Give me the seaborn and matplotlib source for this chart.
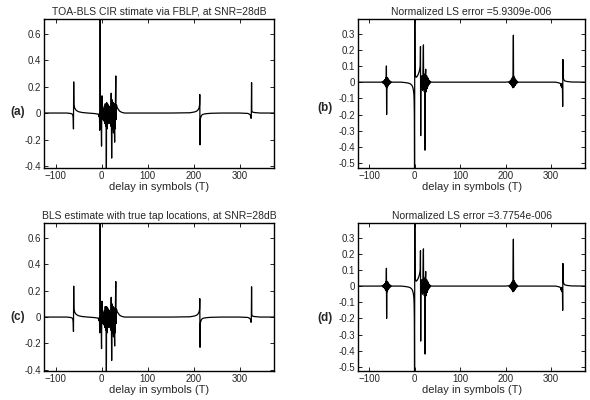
import seaborn as sns
import matplotlib.pyplot as plt
from matplotlib.ticker import FormatStrFormatter

# (a) TOA-BLS estimate via FBLP
delay_a = [-125, -75, -66, -63, -62, -61.5, -61, -60.5, -60, -58, -55, -50, -42, -30,
           -15, -8, -6, -5, -4.5, -4, -3.5, -3, -2.5, -2, -1.5, -1, 0, 0.5, 1, 1.5,
           2, 3, 4, 5, 6, 7, 8, 9, 10, 10.5, 11, 12, 13, 14, 15, 16, 17, 20, 21,
           22, 23, 24, 25, 26, 27, 28.5, 29, 29.5, 30, 31, 31.5, 32.5, 34, 36, 39, 44,
           50, 80, 150, 192, 202, 207, 210, 212, 213, 213.5, 214, 214.5, 215, 216,
           217, 219, 222, 227, 237, 260, 300, 318, 322, 324, 325, 325.5, 326, 326.5,
           327, 328, 330, 335, 345, 375]
cir_a = [0, 0, -0.004, -0.01, -0.02, -0.04, -0.12, 0.235, 0.06, 0.035, 0.02, 0.01, 0.004, 0,
         -0.004, -0.008, -0.015, -0.03, 0.0, -0.13, 0.0, 0.75, 0.0, -0.04, 0.02, -0.03, -0.25, 0.0, 0.13, -0.02,
         0.04, -0.05, 0.03, -0.06, 0.05, -0.08, 0.07, -0.1, 0.06, -0.45, 0.08, -0.12, 0.07, -0.05, 0.06, -0.08, 0.05, -0.1, 0.15,
         -0.34, 0.1, -0.12, 0.08, -0.15, 0.05, -0.22, 0.07, -0.12, 0.05, 0.28, -0.05, 0.06, 0.04, 0.03, 0.015, 0.005,
         0, 0, 0, 0.002, 0.008, 0.015, 0.025, 0.04, 0.06, 0.14, -0.24, -0.06, -0.04, -0.03,
         -0.02, -0.012, -0.008, -0.005, -0.002, 0, 0, -0.003, -0.01, -0.02, -0.04, 0.0, 0.23, 0.02,
         0.01, 0.008, 0.005, 0.003, 0.0, 0]

# (c) BLS estimate with true tap locations
delay_c = delay_a
cir_c = [0, 0, -0.004, -0.01, -0.02, -0.04, -0.11, 0.235, 0.06, 0.035, 0.02, 0.01, 0.004, 0,
         -0.004, -0.008, -0.015, -0.03, 0.0, -0.12, 0.0, 0.75, 0.0, -0.04, 0.02, -0.03, -0.24, 0.0, 0.12, -0.02,
         0.04, -0.05, 0.03, -0.06, 0.05, -0.08, 0.08, -0.1, 0.06, -0.45, 0.08, -0.12, 0.07, -0.05, 0.06, -0.08, 0.05, -0.1, 0.15,
         -0.33, 0.1, -0.12, 0.08, -0.15, 0.05, -0.22, 0.07, -0.12, 0.05, 0.27, -0.05, 0.06, 0.04, 0.03, 0.015, 0.005,
         0, 0, 0, 0.002, 0.008, 0.015, 0.025, 0.04, 0.06, 0.14, -0.23, -0.06, -0.04, -0.03,
         -0.02, -0.012, -0.008, -0.005, -0.002, 0, 0, -0.003, -0.01, -0.02, -0.04, 0.0, 0.23, 0.02,
         0.01, 0.008, 0.005, 0.003, 0.0, 0]

# (b) / (d) channel responses behind the normalized LS error
delay_b = [-125, -74, -72, -71, -70, -69, -68, -67, -66, -65, -64, -63, -62.5, -62, -61.5,
           -61, -60, -59, -58, -57, -56, -55, -54, -53, -52, -50,
           -30, -20, -14, -10, -7, -5, -4, -3, -2, -1.5, -1, -0.5, 0, 0.5, 1, 2, 3, 5, 7,
           9, 11, 12, 12.5, 13, 13.5, 14, 15, 16, 17, 18, 19, 19.5, 20, 21, 22, 22.5, 23,
           24, 25, 26, 27, 28, 29, 30, 31, 32, 33, 34, 36,
           200, 207, 208, 209, 210, 211, 212, 213, 214, 215, 216, 217, 217.5, 218, 219,
           220, 221, 222, 223, 224, 225, 226, 227, 229,
           310, 318, 321, 322, 323, 324, 325, 325.5, 326, 326.5, 327, 328, 330, 335, 345, 375]
err_b = [0, 0, 0.003, -0.004, 0.005, -0.007, 0.009, -0.012, 0.016, -0.02, 0.026, -0.03, 0.1, -0.2, 0.03,
         -0.035, 0.028, -0.024, 0.019, -0.015, 0.011, -0.008, 0.006, -0.004, 0.002, 0,
         0, -0.003, -0.006, -0.01, -0.017, -0.027, -0.037, -0.05, -0.075, -0.11, -0.2, -0.6, 0.45, 0.08, 0.05, 0.035, 0.03, 0.035, 0.045,
         0.06, 0.08, 0.1, 0.22, -0.33, 0.01, 0.03, -0.03, 0.04, -0.05, 0.05, 0.23, -0.04, 0.04, -0.06, 0.05, -0.42, 0.03,
         0.08, -0.06, 0.04, -0.04, 0.03, -0.025, 0.02, -0.015, 0.01, -0.008, 0.005, 0,
         0, 0.002, -0.004, 0.006, -0.009, 0.012, -0.016, 0.02, -0.025, 0.03, -0.035, 0.29, -0.02, 0.035, -0.03,
         0.025, -0.02, 0.016, -0.012, 0.009, -0.006, 0.004, -0.002, 0,
         0, -0.005, -0.01, -0.025, -0.008, -0.035, -0.02, -0.15, 0.14, 0.04, 0.025, 0.015, 0.008, 0.004, 0.001, 0]

delay_d = delay_b
err_d = [0, 0, 0.003, -0.004, 0.005, -0.007, 0.009, -0.012, 0.016, -0.02, 0.026, -0.03, 0.11, -0.2, 0.03,
         -0.035, 0.028, -0.024, 0.019, -0.015, 0.011, -0.008, 0.006, -0.004, 0.002, 0,
         0, -0.003, -0.006, -0.01, -0.017, -0.027, -0.037, -0.05, -0.075, -0.11, -0.2, -0.6, 0.45, 0.07, 0.05, 0.035, 0.03, 0.035, 0.045,
         0.06, 0.08, 0.1, 0.22, -0.34, 0.01, 0.03, -0.03, 0.04, -0.05, 0.05, 0.23, -0.04, 0.04, -0.06, 0.05, -0.42, 0.03,
         0.09, -0.06, 0.04, -0.04, 0.03, -0.025, 0.02, -0.015, 0.01, -0.008, 0.005, 0,
         0, 0.002, -0.004, 0.006, -0.009, 0.012, -0.016, 0.02, -0.025, 0.03, -0.035, 0.29, -0.02, 0.035, -0.03,
         0.025, -0.02, 0.016, -0.012, 0.009, -0.006, 0.004, -0.002, 0,
         0, -0.005, -0.01, -0.025, -0.008, -0.035, -0.02, -0.15, 0.14, 0.04, 0.025, 0.015, 0.008, 0.004, 0.001, 0]

titles = ["TOA-BLS CIR stimate via FBLP, at SNR=28dB",
          "Normalized LS error =5.9309e-006",
          "BLS estimate with true tap locations, at SNR=28dB",
          "Normalized LS error =3.7754e-006"]
panel_tags = ["(a)", "(b)", "(c)", "(d)"]
left_yticks = [-0.4, -0.2, 0, 0.2, 0.4, 0.6]
right_yticks = [-0.5, -0.4, -0.3, -0.2, -0.1, 0, 0.1, 0.2, 0.3]
xticks = [-100, 0, 100, 200, 300]

sns.set_style("ticks")
plt.rcParams['font.family'] = ['Liberation Sans', 'DejaVu Sans']

fig = plt.figure(figsize=(5.9, 4.0), dpi=100)
boxes = [[0.0746, 0.58, 0.39, 0.3725], [0.6068, 0.58, 0.385, 0.3725],
         [0.0746, 0.0725, 0.39, 0.37], [0.6068, 0.0725, 0.385, 0.37]]
series = [(delay_a, cir_a), (delay_b, err_b), (delay_c, cir_c), (delay_d, err_d)]
ylims = [(-0.415, 0.71), (-0.53, 0.39), (-0.41, 0.715), (-0.525, 0.39)]
tag_pos = [(0.03, 0.72), (0.551, 0.73), (0.03, 0.2075), (0.551, 0.205)]

for i in range(4):
    ax = fig.add_axes(boxes[i])
    x, y = series[i]
    sns.lineplot(x=x, y=y, ax=ax, color="black", linewidth=0.9, estimator=None)
    ax.set_xlim(-125, 375)
    ax.set_ylim(*ylims[i])
    ax.set_xticks(xticks)
    ax.set_yticks(left_yticks if i % 2 == 0 else right_yticks)
    ax.yaxis.set_major_formatter(FormatStrFormatter('%g'))
    ax.tick_params(direction="in", length=3, width=0.6, labelsize=7,
                   top=True, right=True, pad=2, color="black")
    for sp in ax.spines.values():
        sp.set_linewidth(1.0)
        sp.set_color("black")
    ax.set_title(titles[i], fontsize=7.5, pad=3)
    ax.set_xlabel("delay in symbols (T)", fontsize=8, labelpad=1)
    ax.set_ylabel("")
    fig.text(tag_pos[i][0], tag_pos[i][1], panel_tags[i], fontsize=8.5,
             fontweight="bold", ha="center", va="center")

fig.savefig("out.png", dpi=100)
